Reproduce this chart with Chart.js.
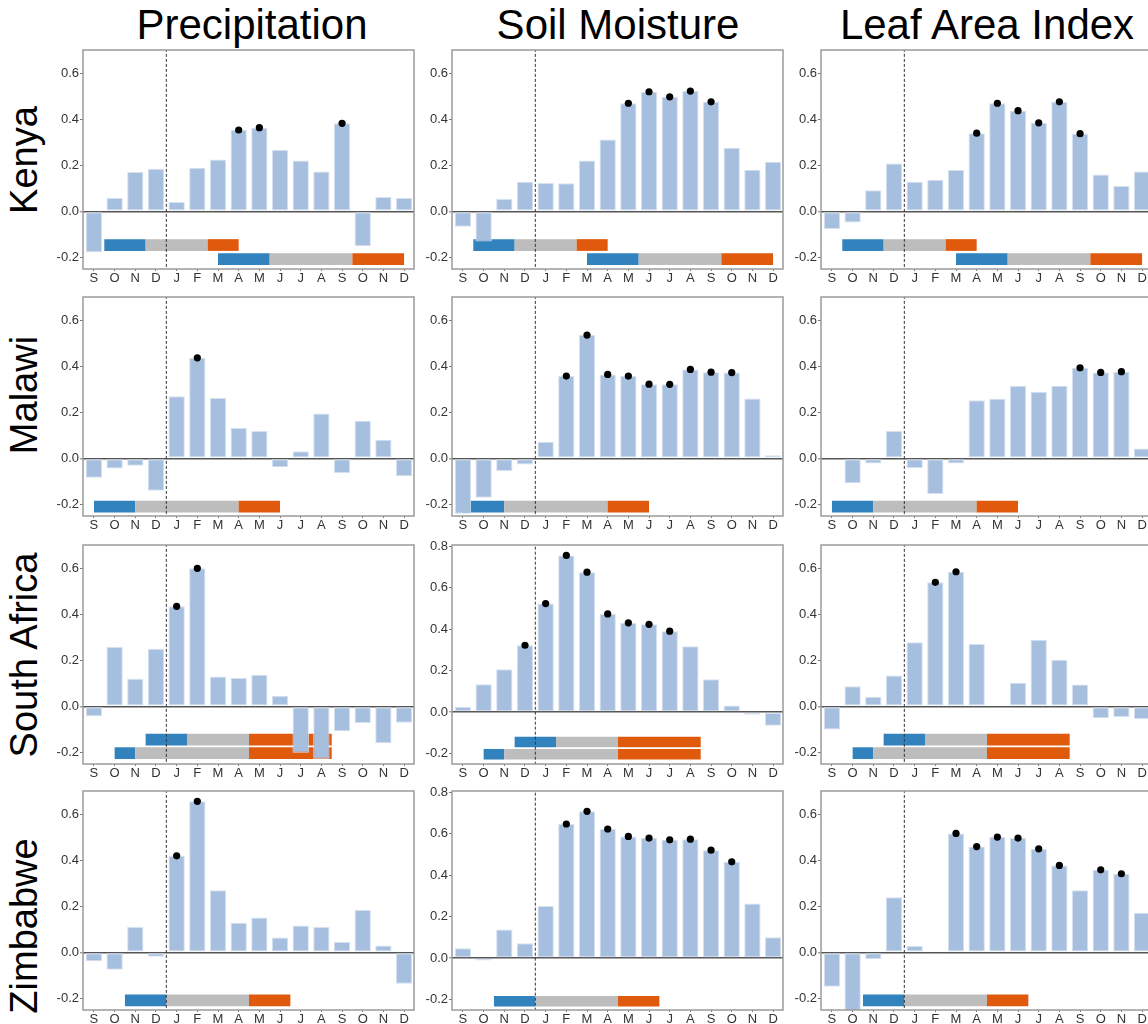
<!DOCTYPE html>
<html>
<head>
<meta charset="utf-8">
<script src="https://cdn.jsdelivr.net/npm/chart.js@4.4.0/dist/chart.umd.min.js"></script>
<style>
  body { margin: 0; width: 1148px; height: 1024px; overflow: hidden; background: #fff; position: relative;
         font-family: "Liberation Sans", Arial, sans-serif; }
  .title { position: absolute; top: 4px; font-size: 42px; line-height: 42px; white-space: nowrap;
           transform: translateX(-50%); color: #000; }
  .row { position: absolute; font-size: 38px; line-height: 38px; white-space: nowrap; color: #000;
         transform: translate(-50%, -50%) rotate(-90deg); }
  canvas { position: absolute; }
</style>
</head>
<body>
<script>
// month axis, Sep of previous year to Dec
var months = ['S','O','N','D','J','F','M','A','M','J','J','A','S','O','N','D'];
var countries = ['Kenya', 'Malawi', 'South Africa', 'Zimbabwe'];
var variables = ['Precipitation', 'Soil Moisture', 'Leaf Area Index'];

// correlation per month
var kenyaPrecip = [-0.177, 0.058, 0.171, 0.185, 0.041, 0.189, 0.225, 0.353, 0.363, 0.266, 0.221, 0.173, 0.382, -0.151, 0.062, 0.058];
var kenyaSoil   = [-0.067, -0.131, 0.054, 0.129, 0.123, 0.122, 0.221, 0.312, 0.469, 0.519, 0.497, 0.522, 0.475, 0.276, 0.180, 0.215];
var kenyaLai    = [-0.077, -0.048, 0.092, 0.208, 0.129, 0.137, 0.179, 0.339, 0.469, 0.437, 0.384, 0.475, 0.337, 0.160, 0.110, 0.173];

var malawiPrecip = [-0.084, -0.044, -0.032, -0.141, 0.270, 0.436, 0.262, 0.132, 0.119, -0.038, 0.031, 0.195, -0.064, 0.163, 0.081, -0.078];
var malawiSoil   = [-0.240, -0.171, -0.055, -0.027, 0.072, 0.357, 0.535, 0.364, 0.357, 0.322, 0.321, 0.386, 0.374, 0.372, 0.260, 0.013];
var malawiLai    = [0.000, -0.108, -0.022, 0.119, -0.042, -0.155, -0.022, 0.252, 0.259, 0.315, 0.289, 0.315, 0.393, 0.373, 0.376, 0.043];

var southAfricaPrecip = [-0.043, 0.258, 0.120, 0.250, 0.434, 0.599, 0.130, 0.123, 0.137, 0.046, -0.201, -0.227, -0.108, -0.072, -0.160, -0.071];
var southAfricaSoil   = [0.026, 0.134, 0.206, 0.322, 0.523, 0.755, 0.674, 0.473, 0.430, 0.423, 0.390, 0.317, 0.158, 0.032, -0.013, -0.066];
var southAfricaLai    = [-0.100, 0.087, 0.042, 0.134, 0.278, 0.538, 0.584, 0.271, 0.003, 0.102, 0.289, 0.202, 0.095, -0.051, -0.046, -0.055];

var zimbabwePrecip = [-0.038, -0.075, 0.110, -0.019, 0.419, 0.655, 0.270, 0.128, 0.151, 0.065, 0.117, 0.110, 0.045, 0.184, 0.030, -0.136];
var zimbabweSoil   = [0.048, -0.011, 0.138, 0.072, 0.251, 0.646, 0.707, 0.622, 0.586, 0.578, 0.570, 0.573, 0.520, 0.464, 0.263, 0.101];
var zimbabweLai    = [-0.149, -0.270, -0.029, 0.239, 0.028, -0.003, 0.516, 0.459, 0.500, 0.496, 0.449, 0.377, 0.270, 0.358, 0.341, 0.172];

// months marked significant (index into months)
var kenyaPrecipDots = [7, 8, 12];
var kenyaSoilDots   = [8, 9, 10, 11, 12];
var kenyaLaiDots    = [7, 8, 9, 10, 11, 12];
var malawiPrecipDots = [5];
var malawiSoilDots   = [5, 6, 7, 8, 9, 10, 11, 12, 13];
var malawiLaiDots    = [12, 13, 14];
var southAfricaPrecipDots = [4, 5];
var southAfricaSoilDots   = [3, 4, 5, 6, 7, 8, 9, 10];
var southAfricaLaiDots    = [5, 6];
var zimbabwePrecipDots = [4, 5];
var zimbabweSoilDots   = [5, 6, 7, 8, 9, 10, 11, 12, 13];
var zimbabweLaiDots    = [6, 7, 8, 9, 10, 11, 13, 14];

// growing seasons: [start, end of planting, end of growing, end of harvest] in month index
var kenyaSeasons = [[0.5, 2.5, 5.5, 7.0], [6.0, 8.5, 12.5, 15.0]];
var kenyaSeasonY = [-0.146, -0.207];
var malawiSeasons = [[0, 2, 7, 9]];
var malawiSeasonY = [-0.209];
var southAfricaSeasons = [[2.5, 4.5, 7.5, 11.5], [1, 2, 7.5, 11.5]];
var southAfricaSeasonY = [-0.144, -0.203];
var zimbabweSeasons = [[1.5, 3.5, 7.5, 9.5]];
var zimbabweSeasonY = [-0.208];

var yTicksLow  = [-0.2, 0, 0.2, 0.4, 0.6];
var yTicksHigh = [-0.2, 0, 0.2, 0.4, 0.6, 0.8];

var panelValues = [[kenyaPrecip, kenyaSoil, kenyaLai],
                   [malawiPrecip, malawiSoil, malawiLai],
                   [southAfricaPrecip, southAfricaSoil, southAfricaLai],
                   [zimbabwePrecip, zimbabweSoil, zimbabweLai]];
var panelDots = [[kenyaPrecipDots, kenyaSoilDots, kenyaLaiDots],
                 [malawiPrecipDots, malawiSoilDots, malawiLaiDots],
                 [southAfricaPrecipDots, southAfricaSoilDots, southAfricaLaiDots],
                 [zimbabwePrecipDots, zimbabweSoilDots, zimbabweLaiDots]];
var seasonRanges = [kenyaSeasons, malawiSeasons, southAfricaSeasons, zimbabweSeasons];
var seasonLevels = [kenyaSeasonY, malawiSeasonY, southAfricaSeasonY, zimbabweSeasonY];

var seasonColors = ['#3182bd', '#bdbdbd', '#e05a0e'];

// layout
var AXW = 30, AXH = 20, PADT = 9, PADR = 6, PW = 331, PH = 219;
var plotLeft = [83.3, 452.3, 821];
var plotTop = [50, 297.3, 545, 790.7];
var titleX = [252, 618, 987];
var rowY = [160, 395, 655, 926];
var YMIN = -0.25;

variables.forEach(function (v, c) {
  var d = document.createElement('div');
  d.className = 'title';
  d.style.left = titleX[c] + 'px';
  d.textContent = v;
  document.body.appendChild(d);
});
countries.forEach(function (n, r) {
  var d = document.createElement('div');
  d.className = 'row';
  d.style.left = '24px';
  d.style.top = rowY[r] + 'px';
  d.textContent = n;
  document.body.appendChild(d);
});

var framePlugin = {
  id: 'frame',
  afterDatasetsDraw: function (chart) {
    var a = chart.chartArea, g = chart.ctx;
    g.save();
    g.strokeStyle = '#9a9a9a';
    g.lineWidth = 1.5;
    g.strokeRect(a.left, a.top, a.right - a.left, a.bottom - a.top);
    g.restore();
  }
};

function makePanel(r, c) {
  var values = panelValues[r][c];
  var dots = panelDots[r][c];
  var high = (c === 1 && r >= 2);
  var yMax = high ? 0.805 : 0.70;
  var yTicks = high ? yTicksHigh : yTicksLow;
  var seasonWidth = 0.051 * PH / (yMax - YMIN);

  var cv = document.createElement('canvas');
  cv.width = AXW + PW + PADR;
  cv.height = PADT + PH + AXH;
  cv.style.left = (plotLeft[c] - AXW) + 'px';
  cv.style.top = (plotTop[r] - PADT) + 'px';
  document.body.appendChild(cv);

  var datasets = [];
  datasets.push({
    type: 'bar',
    data: values.map(function (y, i) { return { x: i, y: y }; }),
    backgroundColor: '#a7bfdf',
    borderColor: '#d6e1f0',
    borderWidth: 1,
    borderSkipped: false,
    categoryPercentage: 1,
    barPercentage: 0.79,
    order: 2
  });
  seasonRanges[r].forEach(function (s, k) {
    datasets.push({
      type: 'line',
      data: s.map(function (x) { return { x: x, y: seasonLevels[r][k] }; }),
      borderWidth: seasonWidth,
      borderCapStyle: 'butt',
      borderColor: seasonColors[0],
      segment: { borderColor: function (ctx) { return seasonColors[ctx.p0DataIndex]; } },
      pointRadius: 0,
      tension: 0,
      order: 3
    });
  });
  datasets.push({
    type: 'line',
    data: [{ x: 3.5, y: -1 }, { x: 3.5, y: 1 }],
    borderColor: '#333',
    borderWidth: 1,
    borderDash: [3, 2],
    pointRadius: 0,
    order: 1
  });
  datasets.push({
    type: 'scatter',
    data: dots.map(function (i) { return { x: i, y: values[i] }; }),
    backgroundColor: '#000',
    borderWidth: 0,
    pointRadius: 3.6,
    order: 0
  });

  new Chart(cv, {
    type: 'bar',
    data: { datasets: datasets },
    plugins: [framePlugin],
    options: {
      responsive: false,
      animation: false,
      events: [],
      devicePixelRatio: 1,
      layout: { padding: { top: PADT, right: PADR, left: 0, bottom: 0 } },
      plugins: { legend: { display: false }, tooltip: { enabled: false } },
      scales: {
        x: {
          type: 'linear',
          offset: false,
          min: -0.53,
          max: 15.48,
          border: { display: false },
          grid: { offset: false, drawOnChartArea: false, drawTicks: true, tickLength: 2, tickColor: '#777', tickWidth: 1 },
          afterBuildTicks: function (scale) { scale.ticks = months.map(function (m, i) { return { value: i }; }); },
          afterFit: function (scale) { scale.height = AXH; scale.paddingLeft = 0; scale.paddingRight = 0; },
          ticks: {
            autoSkip: false, maxRotation: 0, padding: 0,
            color: '#333', font: { family: 'Liberation Sans', size: 13 },
            callback: function (v) { return months[v]; }
          }
        },
        y: {
          min: YMIN,
          max: yMax,
          border: { display: false },
          grid: {
            color: function (ctx) { return ctx.tick && ctx.tick.value === 0 ? '#555' : 'rgba(0,0,0,0)'; },
            lineWidth: function (ctx) { return ctx.tick && ctx.tick.value === 0 ? 1.6 : 1; },
            tickColor: '#777', tickWidth: 1, tickLength: 3
          },
          afterBuildTicks: function (scale) { scale.ticks = yTicks.map(function (t) { return { value: t }; }); },
          afterFit: function (scale) { scale.width = AXW; scale.paddingTop = 0; scale.paddingBottom = 0; },
          ticks: {
            padding: 1, color: '#333', font: { family: 'Liberation Sans', size: 13 },
            callback: function (v) { return v.toFixed(1); }
          }
        }
      }
    }
  });
}

for (var r = 0; r < 4; r++) {
  for (var c = 0; c < 3; c++) {
    makePanel(r, c);
  }
}
</script>
</body>
</html>
